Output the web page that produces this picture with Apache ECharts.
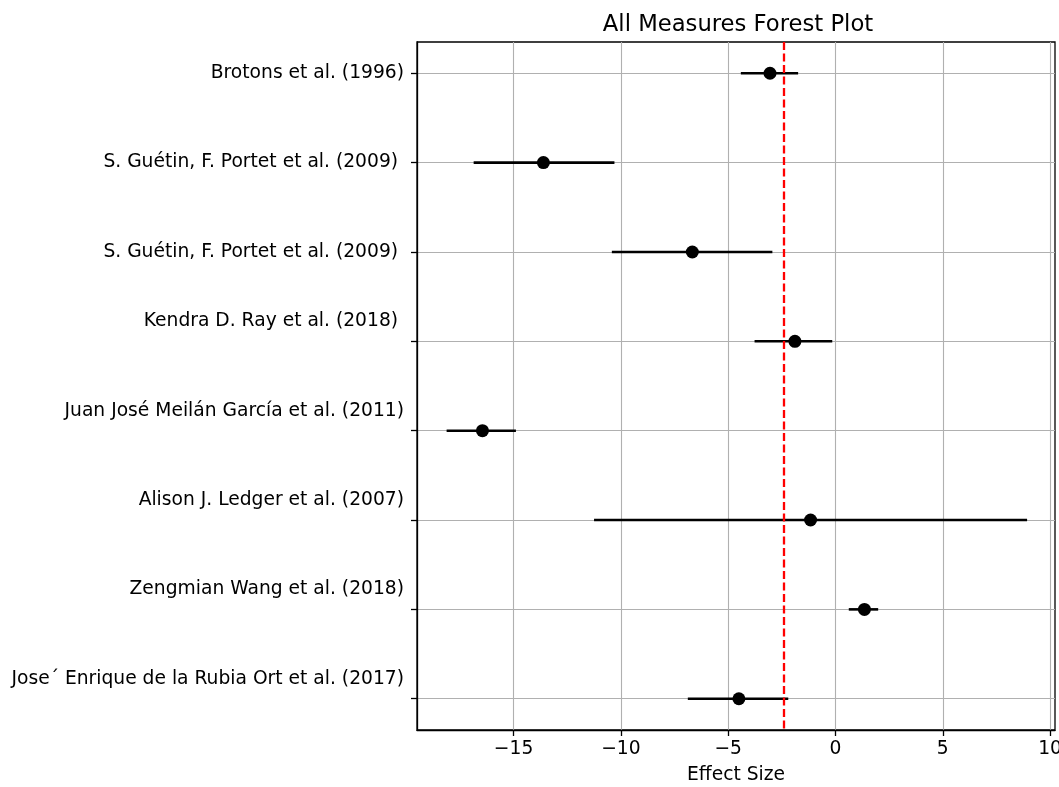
<!DOCTYPE html>
<html>
<head>
<meta charset="utf-8">
<script src="https://cdn.jsdelivr.net/npm/echarts@6/dist/echarts.min.js"></script>
<style>
html,body{margin:0;padding:0;background:#fff;}
#chart{width:1059px;height:787px;}
</style>
</head>
<body>
<div id="chart"></div>
<script>
const studies = [
  'Brotons et al. (1996)',
  'S. Guétin, F. Portet et al. (2009) ',
  'S. Guétin, F. Portet et al. (2009) ',
  'Kendra D. Ray et al. (2018) ',
  'Juan José Meilán García et al. (2011)',
  'Alison J. Ledger et al. (2007)',
  'Zengmian Wang et al. (2018)',
  'Jose´ Enrique de la Rubia Ort et al. (2017)'
];
const effects = [-3.05, -13.61, -6.67, -1.89, -16.45, -1.16, 1.35, -4.50];
const ciLow  = [-4.41, -16.86, -10.42, -3.77, -18.12, -11.25, 0.62, -6.88];
const ciHigh = [-1.74, -10.30, -2.94, -0.15, -14.89, 8.93, 1.99, -2.20];
const refLine = -2.42;
const xTickValues = [-15, -10, -5, 0, 5, 10];
const xMin = -19.5, xMax = 10.23;
const yMin = -0.35, yMax = 7.35;

const FONT = 'DejaVu Sans';
const FS = 18.7;
const rowIdx = studies.map((_, i) => i);
const pointData = effects.map((e, i) => [e, i]);
const barData = effects.map((_, i) => [ciLow[i], ciHigh[i], i]);

const chart = echarts.init(document.getElementById('chart'), null, {renderer: 'canvas'});
chart.setOption({
  animation: false,
  backgroundColor: '#ffffff',
  title: {
    text: 'All Measures Forest Plot',
    left: 733, top: 9, textAlign: 'center',
    textStyle: {fontFamily: FONT, fontSize: 22.7, fontWeight: 'normal', color: '#000'}
  },
  grid: {
    left: 417, top: 42, right: 4, bottom: 57,
    outerBoundsMode: 'none', containLabel: false,
    show: true, borderColor: '#000', borderWidth: 1.3, backgroundColor: 'transparent'
  },
  xAxis: {
    type: 'value', min: xMin, max: xMax,
    minInterval: 5, maxInterval: 5,
    name: 'Effect Size', nameLocation: 'middle', nameGap: 36,
    nameTextStyle: {fontFamily: FONT, fontSize: FS, color: '#000'},
    axisLine: {show: true, onZero: false, lineStyle: {color: '#000', width: 1.3}},
    axisTick: {show: true, length: 6, customValues: xTickValues, lineStyle: {color: '#000', width: 1.3}},
    axisLabel: {
      customValues: xTickValues, margin: 10,
      fontFamily: FONT, fontSize: FS, color: '#000',
      formatter: v => (v < 0 ? '\u2212' + Math.abs(v) : String(v))
    },
    splitLine: {show: true, lineStyle: {color: '#b0b0b0', width: 1.1}}
  },
  yAxis: {
    type: 'value', inverse: true, min: yMin, max: yMax,
    minInterval: 1, maxInterval: 1,
    axisLine: {show: true, onZero: false, lineStyle: {color: '#000', width: 1.3}},
    axisTick: {show: true, length: 6, customValues: rowIdx, lineStyle: {color: '#000', width: 1.3}},
    axisLabel: {
      customValues: rowIdx, margin: 13,
      fontFamily: FONT, fontSize: FS, color: '#000', lineHeight: 20,
      formatter: v => {
        const i = Math.round(v);
        if (Math.abs(v - i) > 1e-6 || i < 0 || i >= studies.length) return '';
        return i >= 3 ? studies[i] + '\n \n ' : studies[i];
      }
    },
    splitLine: {show: true, lineStyle: {color: '#b0b0b0', width: 1.1}}
  },
  series: [
    {
      type: 'custom',
      data: barData,
      encode: {x: [0, 1], y: 2},
      z: 3,
      renderItem: (params, api) => {
        const p1 = api.coord([api.value(0), api.value(2)]);
        const p2 = api.coord([api.value(1), api.value(2)]);
        return {
          type: 'line',
          shape: {x1: p1[0], y1: p1[1], x2: p2[0], y2: p2[1]},
          style: {stroke: '#000', lineWidth: 2.6}
        };
      }
    },
    {
      type: 'scatter',
      data: pointData,
      symbol: 'circle', symbolSize: 13,
      itemStyle: {color: '#000', opacity: 1},
      z: 4,
      markLine: {
        silent: true, symbol: 'none', label: {show: false},
        lineStyle: {color: '#ff0000', type: [8, 3.5], width: 2.3},
        data: [{xAxis: refLine}],
        z: 5
      }
    }
  ]
});
</script>
</body>
</html>
